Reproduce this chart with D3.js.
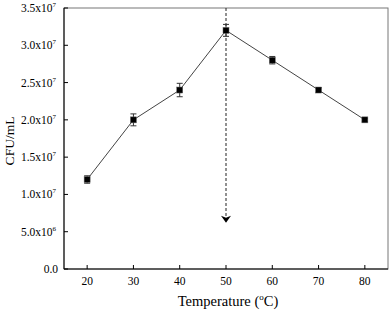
<!DOCTYPE html>
<html><head><meta charset="utf-8">
<script src="https://cdn.jsdelivr.net/npm/d3@7"></script>
<style>body{margin:0;background:#fff}</style>
</head><body>
<svg id="c" width="392" height="314"></svg>
<script>
const temps = [20, 30, 40, 50, 60, 70, 80];
const cfu = [1.2e7, 2.0e7, 2.4e7, 3.2e7, 2.8e7, 2.4e7, 2.0e7];
const err = [0.05e7, 0.08e7, 0.09e7, 0.08e7, 0.05e7, 0.03e7, 0.02e7];
const yTicks = [0, 5e6, 1e7, 1.5e7, 2e7, 2.5e7, 3e7, 3.5e7];
const yTickMant = ["0.0", "5.0x10", "1.0x10", "1.5x10", "2.0x10", "2.5x10", "3.0x10", "3.5x10"];
const yTickExp = ["", "6", "7", "7", "7", "7", "7", "7"];
const xTicks = [20, 30, 40, 50, 60, 70, 80];
const peakT = 50, arrowEnd = 6.2e6;

const svg = d3.select("#c");
const L = 64, R = 388, T = 8, B = 269;
const x = d3.scaleLinear().domain([15, 85]).range([L, R]);
const y = d3.scaleLinear().domain([0, 3.5e7]).range([B, T]);
const font = "'Liberation Serif', 'Times New Roman', serif";

// frame
svg.append("rect").attr("x", L).attr("y", T).attr("width", R - L).attr("height", B - T)
  .attr("fill", "none").attr("stroke", "#777").attr("stroke-width", 1);
svg.append("line").attr("x1", L).attr("x2", L).attr("y1", T).attr("y2", B).attr("stroke", "#000");
svg.append("line").attr("x1", L).attr("x2", R).attr("y1", B).attr("y2", B).attr("stroke", "#000");

// y ticks
const yg = svg.append("g");
yTicks.forEach((v, i) => {
  const yy = y(v);
  yg.append("line").attr("x1", L).attr("x2", L + 4).attr("y1", yy).attr("y2", yy).attr("stroke", "#000");
  const t = yg.append("text").attr("x", yTickExp[i] ? 56 : 58).attr("y", yy + 4)
    .attr("text-anchor", "end").attr("font-family", font).attr("font-size", 11.5);
  t.append("tspan").text(yTickMant[i]);
  if (yTickExp[i]) t.append("tspan").attr("dy", -5).attr("font-size", 7).text(yTickExp[i]);
});
// x ticks
xTicks.forEach(v => {
  const xx = x(v);
  svg.append("line").attr("x1", xx).attr("x2", xx).attr("y1", B).attr("y2", B - 4).attr("stroke", "#000");
  svg.append("text").attr("x", xx).attr("y", B + 16).attr("text-anchor", "middle")
    .attr("font-family", font).attr("font-size", 11.5).text(v);
});

// titles
const xt = svg.append("text").attr("x", 228).attr("y", 306).attr("text-anchor", "middle")
  .attr("font-family", font).attr("font-size", 14.5);
xt.append("tspan").text("Temperature (");
xt.append("tspan").attr("dy", -6).attr("font-size", 9).text("o");
xt.append("tspan").attr("dy", 6).text("C)");
svg.append("text").attr("transform", `translate(14,141) rotate(-90)`)
  .attr("text-anchor", "middle").attr("font-family", font).attr("font-size", 13.5).text("CFU/mL");

// dashed arrow
const ax = x(peakT), ay = y(arrowEnd);
svg.append("line").attr("x1", ax).attr("x2", ax).attr("y1", T).attr("y2", ay - 5)
  .attr("stroke", "#222").attr("stroke-width", 1).attr("stroke-dasharray", "3,2");
svg.append("path").attr("d", `M${ax - 5},${ay - 7} L${ax},${ay - 5} L${ax + 5},${ay - 7} L${ax},${ay} Z`).attr("fill", "#000");

// line
svg.append("path").datum(temps.map((t, i) => [t, cfu[i]]))
  .attr("d", d3.line().x(d => x(d[0])).y(d => y(d[1])))
  .attr("fill", "none").attr("stroke", "#444").attr("stroke-width", 1);

// error bars
temps.forEach((t, i) => {
  const xx = x(t), y1 = y(cfu[i] - err[i]), y2 = y(cfu[i] + err[i]);
  svg.append("line").attr("x1", xx).attr("x2", xx).attr("y1", y1).attr("y2", y2).attr("stroke", "#333");
  [y1, y2].forEach(yy => svg.append("line").attr("x1", xx - 3).attr("x2", xx + 3).attr("y1", yy).attr("y2", yy).attr("stroke", "#333"));
});
// markers
svg.selectAll("rect.m").data(temps).enter().append("rect")
  .attr("x", (d) => x(d) - 3).attr("y", (d, i) => y(cfu[i]) - 3)
  .attr("width", 6).attr("height", 6).attr("fill", "#000").attr("stroke", "#666").attr("stroke-width", 0.5);
</script>
</body></html>
